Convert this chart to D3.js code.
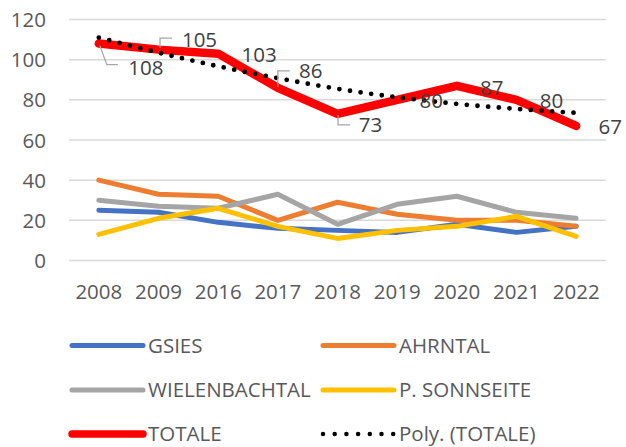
<!DOCTYPE html>
<html>
<head>
<meta charset="utf-8">
<script src="https://cdn.jsdelivr.net/npm/d3@7"></script>
<style>
	body { margin: 0; background: #fff; }
	text { font-family: "Open Sans", sans-serif; }
</style>
</head>
<body>
<svg id="chart" width="626" height="447"></svg>
<script>
// chart data
var years = ["2008", "2009", "2016", "2017", "2018", "2019", "2020", "2021", "2022"];
var gsies = [25, 24, 19, 16, 15, 14, 18, 14, 17];
var ahrntal = [40, 33, 32, 20, 29, 23, 20, 20, 17];
var wielenbachtal = [30, 27, 26, 33, 18, 28, 32, 24, 21];
var sonnseite = [13, 21, 26, 17, 11, 15, 17, 22, 12];
var totale = [108, 105, 103, 86, 73, 80, 87, 80, 67];
// polynomial trendline of TOTALE as drawn in the picture
var polyTotale = [111, 103.5, 96.7, 90.8, 85.5, 81.3, 78, 75.5, 73.5];
var yTicks = [0, 20, 40, 60, 80, 100, 120];

// label placement for TOTALE (offset from the point), leader = draw an elbow line
var labelOffsets = [
	{dx: 47, dy: 24, leader: [[1, 2], [8, 21], [19, 21]]},
	{dx: 41, dy: -10, leader: [[1.5, -2], [1.5, -11.5], [13.5, -11.5]]},
	{dx: 41, dy: 1},
	{dx: 33, dy: -17, leader: [[0, -1], [0, -17], [12, -17]]},
	{dx: 33, dy: 11, leader: [[0.5, 1], [0.5, 11], [12.5, 11]]},
	{dx: 34, dy: 1},
	{dx: 35, dy: 2},
	{dx: 35, dy: 1},
	{dx: 34, dy: 1}
];

var series = [
	{name: "GSIES", values: gsies, color: "#4472C4", width: 5},
	{name: "AHRNTAL", values: ahrntal, color: "#ED7D31", width: 5},
	{name: "WIELENBACHTAL", values: wielenbachtal, color: "#A5A5A5", width: 5},
	{name: "P. SONNSEITE", values: sonnseite, color: "#FFC000", width: 5},
	{name: "TOTALE", values: totale, color: "#FF0000", width: 8.5}
];

var fontSize = 20.5;
var svg = d3.select("#chart");

// scales
var x = d3.scaleBand()
	.domain(years)
	.range([69, 606])
	.padding(0);
var y = d3.scaleLinear()
	.domain([0, 120])
	.range([260.5, 19.5]);

function cx(i){
	return x(years[i]) + x.bandwidth() / 2;
}

// gridlines
svg.selectAll(".grid").data(yTicks)
	.enter()
	.append("line")
	.attr("class", "grid")
	.attr("x1", 69)
	.attr("x2", 606)
	.attr("y1", function(d){ return y(d); })
	.attr("y2", function(d){ return y(d); })
	.attr("stroke", "#d9d9d9")
	.attr("stroke-width", 1.5);

// y axis labels
svg.selectAll(".ylab").data(yTicks)
	.enter()
	.append("text")
	.attr("class", "ylab")
	.attr("x", 46)
	.attr("y", function(d){ return y(d) + 7.5; })
	.attr("text-anchor", "end")
	.attr("font-size", fontSize)
	.attr("fill", "#595959")
	.text(function(d){ return d; });

// x axis labels
svg.selectAll(".xlab").data(years)
	.enter()
	.append("text")
	.attr("class", "xlab")
	.attr("x", function(d, i){ return cx(i); })
	.attr("y", 299)
	.attr("text-anchor", "middle")
	.attr("font-size", fontSize)
	.attr("fill", "#595959")
	.text(function(d){ return d; });

// series lines
var line = d3.line()
	.x(function(d, i){ return cx(i); })
	.y(function(d){ return y(d); });

svg.selectAll(".series").data(series)
	.enter()
	.append("path")
	.attr("class", "series")
	.attr("d", function(s){ return line(s.values); })
	.attr("fill", "none")
	.attr("stroke", function(s){ return s.color; })
	.attr("stroke-width", function(s){ return s.width; })
	.attr("stroke-linecap", "round")
	.attr("stroke-linejoin", "round");

// trendline (dotted)
var curve = d3.line()
	.x(function(d, i){ return cx(i); })
	.y(function(d){ return y(d); })
	.curve(d3.curveMonotoneX);

svg.append("path")
	.attr("d", curve(polyTotale))
	.attr("fill", "none")
	.attr("stroke", "#000")
	.attr("stroke-width", 4.8)
	.attr("stroke-linecap", "round")
	.attr("stroke-dasharray", "0 10.7");

// leader lines
var leaderLine = d3.line();
totale.forEach(function(v, i){
	var o = labelOffsets[i];
	if (!o.leader) return;
	var pts = o.leader.map(function(p){ return [cx(i) + p[0], y(v) + p[1]]; });
	svg.append("path")
		.attr("d", leaderLine(pts))
		.attr("fill", "none")
		.attr("stroke", "#a6a6a6")
		.attr("stroke-width", 1.3);
});

// data labels
svg.selectAll(".dlab").data(totale)
	.enter()
	.append("text")
	.attr("class", "dlab")
	.attr("x", function(d, i){ return cx(i) + labelOffsets[i].dx; })
	.attr("y", function(d, i){ return y(d) + labelOffsets[i].dy + 7.3; })
	.attr("text-anchor", "middle")
	.attr("font-size", fontSize)
	.attr("fill", "#404040")
	.text(function(d){ return d; });

// legend
var legendItems = series.concat([{name: "Poly. (TOTALE)", color: "#000", dotted: true}]);
var legendRows = [345.5, 390, 434];
var legendCols = [72, 323];

var leg = svg.selectAll(".legend").data(legendItems)
	.enter()
	.append("g")
	.attr("class", "legend")
	.attr("transform", function(d, i){
		return "translate(" + legendCols[i % 2] + "," + legendRows[Math.floor(i / 2)] + ")";
	});

leg.append("line")
	.attr("x1", 0)
	.attr("x2", 71)
	.attr("y1", 0)
	.attr("y2", 0)
	.attr("stroke", function(d){ return d.color; })
	.attr("stroke-width", function(d){
		if (d.dotted) return 4.5;
		return d.name == "TOTALE" ? 7.5 : 5;
	})
	.attr("stroke-linecap", "round")
	.attr("stroke-dasharray", function(d){ return d.dotted ? "0 11.7" : null; });

leg.append("text")
	.attr("x", 76)
	.attr("y", 7.3)
	.attr("font-size", fontSize)
	.attr("fill", "#595959")
	.text(function(d){ return d.name; });
</script>
</body>
</html>
